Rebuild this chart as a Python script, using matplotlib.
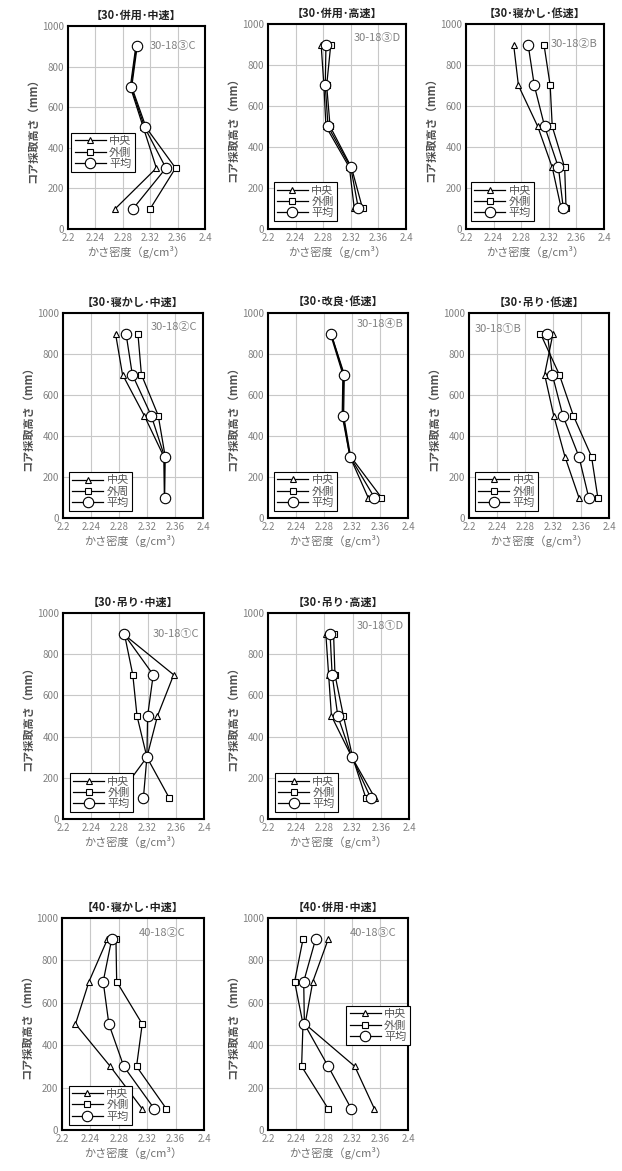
import matplotlib.pyplot as plt

plt.rcParams['font.family'] = ['Noto Sans CJK JP', 'DejaVu Sans']

# core heights (mm)
heights = [100, 300, 500, 700, 900]

# bulk density values, ordered by height 100 -> 900
# 【30・併用・中速】 30-18③C
center_1 = [2.269, 2.329, 2.310, 2.291, 2.299]
outer_1 = [2.320, 2.357, 2.314, 2.293, 2.301]
mean_1 = [2.295, 2.343, 2.312, 2.292, 2.300]
# 【30・併用・高速】 30-18③D
center_2 = [2.325, 2.318, 2.284, 2.281, 2.277]
outer_2 = [2.337, 2.321, 2.290, 2.285, 2.291]
mean_2 = [2.331, 2.320, 2.287, 2.283, 2.284]
# 【30・寝かし・低速】 30-18②B
center_3 = [2.338, 2.325, 2.304, 2.276, 2.269]
outer_3 = [2.345, 2.343, 2.325, 2.322, 2.313]
mean_3 = [2.341, 2.334, 2.314, 2.299, 2.290]
# 【30・寝かし・中速】 30-18②C
center_4 = [2.345, 2.344, 2.316, 2.285, 2.275]
outer_4 = [2.345, 2.346, 2.336, 2.312, 2.307]
mean_4 = [2.345, 2.345, 2.326, 2.299, 2.290]
# 【30・改良・低速】 30-18④B
center_5 = [2.343, 2.317, 2.306, 2.307, 2.289]
outer_5 = [2.362, 2.318, 2.308, 2.309, 2.290]
mean_5 = [2.352, 2.317, 2.307, 2.308, 2.290]
# 【30・吊り・低速】 30-18①B
center_6 = [2.357, 2.337, 2.321, 2.308, 2.320]
outer_6 = [2.384, 2.375, 2.349, 2.329, 2.302]
mean_6 = [2.371, 2.357, 2.334, 2.319, 2.312]
# 【30・吊り・中速】 30-18①C
center_7 = [2.276, 2.319, 2.334, 2.357, 2.285]
outer_7 = [2.351, 2.319, 2.305, 2.299, 2.287]
mean_7 = [2.314, 2.319, 2.320, 2.328, 2.286]
# 【30・吊り・高速】 30-18①D
center_8 = [2.352, 2.319, 2.290, 2.286, 2.282]
outer_8 = [2.339, 2.320, 2.307, 2.295, 2.293]
mean_8 = [2.346, 2.319, 2.299, 2.291, 2.288]
# 【40・寝かし・中速】 40-18②C
center_9 = [2.313, 2.268, 2.219, 2.238, 2.264]
outer_9 = [2.347, 2.305, 2.313, 2.277, 2.276]
mean_9 = [2.330, 2.287, 2.266, 2.258, 2.270]
# 【40・併用・中速】 40-18③C
center_10 = [2.352, 2.324, 2.253, 2.264, 2.286]
outer_10 = [2.286, 2.248, 2.250, 2.238, 2.250]
mean_10 = [2.319, 2.286, 2.252, 2.251, 2.268]

titles = ['【30･併用･中速】', '【30･併用･高速】', '【30･寝かし･低速】',
          '【30･寝かし･中速】', '【30･改良･低速】', '【30･吊り･低速】',
          '【30･吊り･中速】', '【30･吊り･高速】',
          '【40･寝かし･中速】', '【40･併用･中速】']
codes = ['30-18③C', '30-18③D', '30-18②B', '30-18②C', '30-18④B',
         '30-18①B', '30-18①C', '30-18①D', '40-18②C', '40-18③C']
outer_names = ['外側', '外側', '外側', '外周', '外側',
               '外側', '外側', '外側', '外側', '外側']

centers = [center_1, center_2, center_3, center_4, center_5,
           center_6, center_7, center_8, center_9, center_10]
outers = [outer_1, outer_2, outer_3, outer_4, outer_5,
          outer_6, outer_7, outer_8, outer_9, outer_10]
means = [mean_1, mean_2, mean_3, mean_4, mean_5,
         mean_6, mean_7, mean_8, mean_9, mean_10]

xticks = [2.2, 2.24, 2.28, 2.32, 2.36, 2.4]
xtick_labels = ['2.2', '2.24', '2.28', '2.32', '2.36', '2.4']

# layout in pixels: left, top, right, bottom
W, H = 622, 1171
rects = [(68, 26, 205, 229), (268, 24, 406, 229), (466, 24, 604, 229),
         (63, 313, 203, 518), (268, 313, 408, 518), (469, 313, 609, 518),
         (63, 613, 204, 819), (268, 613, 409, 819),
         (62, 918, 204, 1130), (268, 918, 408, 1130)]
legend_pos = [(0.024, 0.28), (0.04, 0.037), (0.036, 0.037),
              (0.043, 0.033), (0.043, 0.033), (0.043, 0.033),
              (0.047, 0.032), (0.047, 0.032), (0.046, 0.024), (0.56, 0.40)]
code_pos = [(0.935, 0.90, 'right'), (0.96, 0.93, 'right'), (0.95, 0.90, 'right'),
            (0.96, 0.93, 'right'), (0.97, 0.945, 'right'), (0.043, 0.92, 'left'),
            (0.965, 0.90, 'right'), (0.965, 0.935, 'right'),
            (0.87, 0.93, 'right'), (0.92, 0.93, 'right')]

fig = plt.figure(figsize=(W / 100, H / 100), dpi=100)

for i in range(len(titles)):
    l, t, r, b = rects[i]
    ax = fig.add_axes([l / W, 1 - b / H, (r - l) / W, (b - t) / H])

    ax.plot(centers[i], heights, color='black', lw=0.9, marker='^', ms=4.5,
            mfc='white', mec='black', mew=0.8, label='中央')
    ax.plot(outers[i], heights, color='black', lw=0.9, marker='s', ms=4.5,
            mfc='white', mec='black', mew=0.8, label=outer_names[i])
    ax.plot(means[i], heights, color='black', lw=0.9, marker='o', ms=7.5,
            mfc='white', mec='black', mew=0.8, label='平均')

    ax.set_xlim(2.2, 2.4)
    ax.set_ylim(0, 1000)
    ax.set_xticks(xticks)
    ax.set_xticklabels(xtick_labels)
    ax.set_yticks(range(0, 1001, 200))
    ax.grid(color='#c8c8c8', lw=0.8)
    ax.set_axisbelow(True)
    ax.tick_params(length=0, labelsize=7, colors='#808080', pad=3)
    for s in ax.spines.values():
        s.set_linewidth(1.5)
        s.set_color('black')

    ax.set_title(titles[i], fontsize=8, fontweight='bold', pad=5, color='#222222')
    ax.set_ylabel('コア採取高さ（mm）', fontsize=8, fontweight='bold',
                  color='#505050', labelpad=2)
    ax.set_xlabel('かさ密度（g/cm³）', fontsize=8, color='#707070', labelpad=2)

    cx, cy, ha = code_pos[i]
    ax.text(cx, cy, codes[i], transform=ax.transAxes, ha=ha, va='center',
            fontsize=8, color='#808080')

    leg = ax.legend(loc='lower left', bbox_to_anchor=legend_pos[i],
                    borderaxespad=0, fontsize=8, fancybox=False,
                    edgecolor='black', framealpha=1, handlelength=2.8,
                    labelspacing=0.1, borderpad=0.3, handletextpad=0.3)
    leg.get_frame().set_linewidth(0.8)
    for txt in leg.get_texts():
        txt.set_color('#555555')

fig.savefig('out.png', dpi=100)
